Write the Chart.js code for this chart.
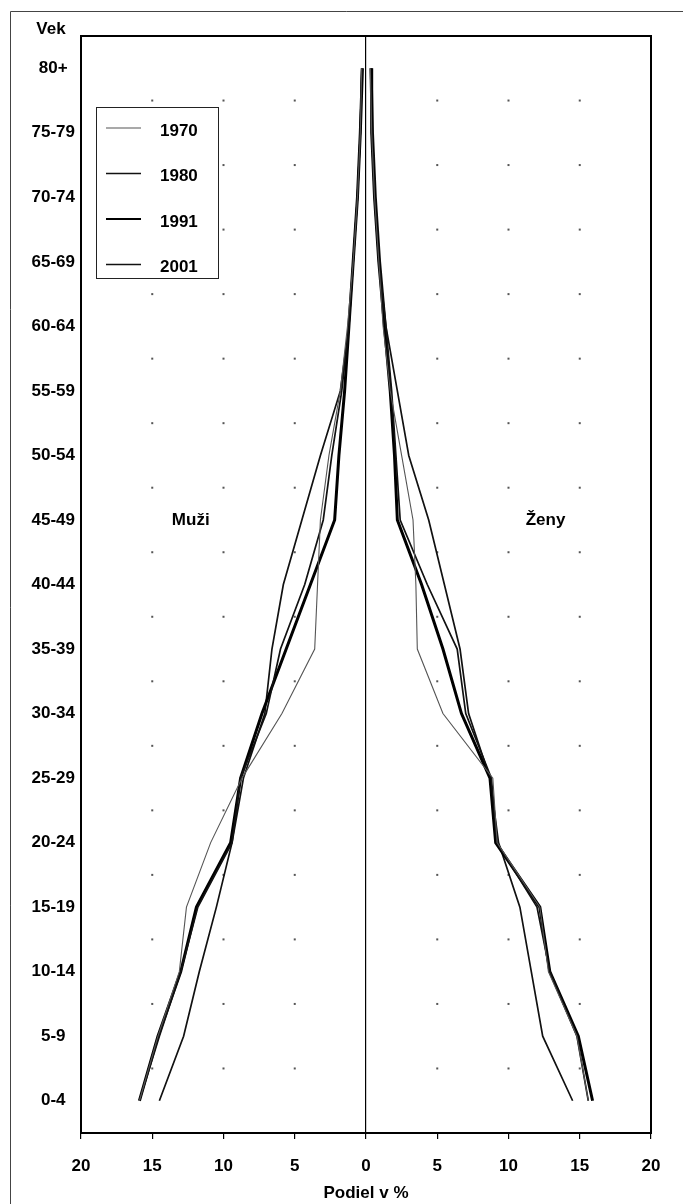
<!DOCTYPE html>
<html>
<head>
<meta charset="utf-8">
<title>Vek</title>
<script src="https://cdn.jsdelivr.net/npm/chart.js@4.4.1/dist/chart.umd.min.js"></script>
<style>
html,body{margin:0;padding:0;background:#fff;}
#wrap{width:683px;height:1204px;}
</style>
</head>
<body>
<div id="wrap"><canvas id="pyramid" width="683" height="1204"></canvas></div>
<script>
var ages=['0-4','5-9','10-14','15-19','20-24','25-29','30-34','35-39','40-44','45-49','50-54','55-59','60-64','65-69','70-74','75-79','80+'];
var years=['1970','1980','1991','2001'];

// muzi (podiel v %), zeny (podiel v %)
var muzi1970=[15.9,14.6,13.1,12.6,10.9,8.7,5.9,3.6,3.4,3.2,2.6,1.8,1.3,0.9,0.6,0.4,0.3];
var muzi1980=[15.9,14.5,13.0,11.8,9.4,8.8,7.0,6.0,4.3,3.0,2.4,1.7,1.2,0.9,0.6,0.4,0.3];
var muzi1991=[15.9,14.6,13.0,11.9,9.5,8.8,7.3,5.6,3.9,2.2,1.9,1.5,1.2,0.9,0.6,0.4,0.25];
var muzi2001=[14.5,12.8,11.7,10.5,9.4,8.6,7.1,6.6,5.8,4.5,3.2,1.8,1.2,0.9,0.6,0.4,0.3];

var zeny1970=[15.6,14.8,12.8,12.2,9.2,8.9,5.4,3.6,3.5,3.3,2.5,1.7,1.2,0.9,0.6,0.4,0.3];
var zeny1980=[15.6,14.8,12.9,12.0,9.2,8.8,7.0,6.4,4.3,2.4,2.1,1.8,1.4,0.9,0.6,0.4,0.3];
var zeny1991=[15.9,14.9,12.9,12.2,9.1,8.7,6.7,5.4,3.9,2.2,2.0,1.7,1.3,0.9,0.6,0.4,0.4];
var zeny2001=[14.5,12.4,11.6,10.8,9.3,8.7,7.2,6.6,5.5,4.4,3.0,2.2,1.4,1.0,0.7,0.5,0.4];

var muzi=[muzi1970,muzi1980,muzi1991,muzi2001];
var zeny=[zeny1970,zeny1980,zeny1991,zeny2001];
var farby=['#555','#111','#000','#111'];
var hrubky=[1.1,1.7,3,1.7];

var FONT='"Liberation Sans", Arial, sans-serif';

var datasets=[];
for(var i=0;i<years.length;i++){
    datasets.push({
        label:years[i],
        data:muzi[i].map(function(v){return -v;}),
        borderColor:farby[i],
        backgroundColor:farby[i],
        borderWidth:hrubky[i],
        pointRadius:0,
        tension:0,
        fill:false
    });
    datasets.push({
        label:years[i]+' zeny',
        data:zeny[i],
        borderColor:farby[i],
        backgroundColor:farby[i],
        borderWidth:hrubky[i],
        pointRadius:0,
        tension:0,
        fill:false
    });
}

var ramik={
    id:'ramik',
    beforeDraw:function(chart){
        var c=chart.ctx;
        c.save();
        c.fillStyle='#fff';
        c.fillRect(0,0,chart.width,chart.height);
        c.strokeStyle='#444';
        c.lineWidth=1;
        c.beginPath();
        c.moveTo(10.5,chart.height);
        c.lineTo(10.5,11.5);
        c.lineTo(chart.width,11.5);
        c.stroke();
        c.restore();
    },
    beforeDatasetsDraw:function(chart){
        // bodkovana mriezka
        var c=chart.ctx, xs=chart.scales.x, ys=chart.scales.y;
        c.save();
        c.fillStyle='#555';
        for(var v=-15;v<=15;v+=5){
            if(v===0) continue;
            var px=xs.getPixelForValue(v);
            for(var k=0;k<ages.length-1;k++){
                var py=(ys.getPixelForValue(k)+ys.getPixelForValue(k+1))/2;
                c.fillRect(px-1,py-1,2,2);
            }
        }
        c.restore();
    },
    afterDatasetsDraw:function(chart){
        var c=chart.ctx, a=chart.chartArea;
        c.save();
        c.strokeStyle='#000';
        c.lineWidth=2;
        c.strokeRect(a.left,a.top,a.right-a.left,a.bottom-a.top);
        c.restore();
    },
    afterDraw:function(chart){
        var c=chart.ctx, a=chart.chartArea, xs=chart.scales.x, ys=chart.scales.y;
        c.save();
        c.fillStyle='#000';
        c.font='bold 17px '+FONT;
        c.textAlign='center';
        c.textBaseline='middle';
        c.fillText('Vek',a.left-30,a.top-7);
        var yr=ys.getPixelForValue(9);
        c.fillText('Muži',xs.getPixelForValue(-12.3),yr);
        c.fillText('Ženy',xs.getPixelForValue(12.6),yr);

        // legenda
        var lx=a.left+15, ly=a.top+71, lw=122, lh=171;
        c.fillStyle='#fff';
        c.fillRect(lx,ly,lw,lh);
        c.strokeStyle='#222';
        c.lineWidth=1;
        c.strokeRect(lx+0.5,ly+0.5,lw,lh);
        c.textAlign='left';
        c.fillStyle='#000';
        for(var i=0;i<years.length;i++){
            var ty=ly+24+i*45.5;
            c.fillText(years[i],lx+64,ty);
            c.strokeStyle=farby[i];
            c.lineWidth=Math.min(hrubky[i],2.2);
            c.beginPath();
            c.moveTo(lx+10,ty-3);
            c.lineTo(lx+45,ty-3);
            c.stroke();
        }
        c.restore();
    }
};

var ctx=document.getElementById('pyramid');
var graf=new Chart(ctx,{
    type:'line',
    data:{labels:ages,datasets:datasets},
    plugins:[ramik],
    options:{
        indexAxis:'y',
        responsive:false,
        animation:false,
        devicePixelRatio:1,
        layout:{padding:{left:20,right:32,top:36,bottom:0}},
        plugins:{legend:{display:false},tooltip:{enabled:false}},
        scales:{
            x:{
                type:'linear',
                min:-20,
                max:20,
                afterFit:function(s){s.height=71;},
                ticks:{
                    stepSize:5,
                    padding:17,
                    color:'#000',
                    font:{family:FONT,size:17,weight:'bold'},
                    callback:function(v){return Math.abs(v);}
                },
                grid:{
                    color:function(ctx){return ctx.tick && ctx.tick.value===0?'#000':'rgba(0,0,0,0)';},
                    lineWidth:1.2,
                    tickColor:'#000',
                    tickLength:6,
                    drawTicks:true
                },
                border:{display:true,color:'#000',width:2},
                title:{
                    display:true,
                    text:'Podiel v %',
                    color:'#000',
                    font:{family:FONT,size:17,weight:'bold'},
                    padding:{top:8,bottom:0}
                }
            },
            y:{
                type:'category',
                reverse:true,
                offset:true,
                afterFit:function(s){s.width=61;},
                ticks:{
                    crossAlign:'center',
                    padding:6,
                    color:'#000',
                    font:{family:FONT,size:17,weight:'bold'}
                },
                grid:{display:false,drawTicks:false,offset:true},
                border:{display:true,color:'#000',width:2}
            }
        }
    }
});
</script>
</body>
</html>
